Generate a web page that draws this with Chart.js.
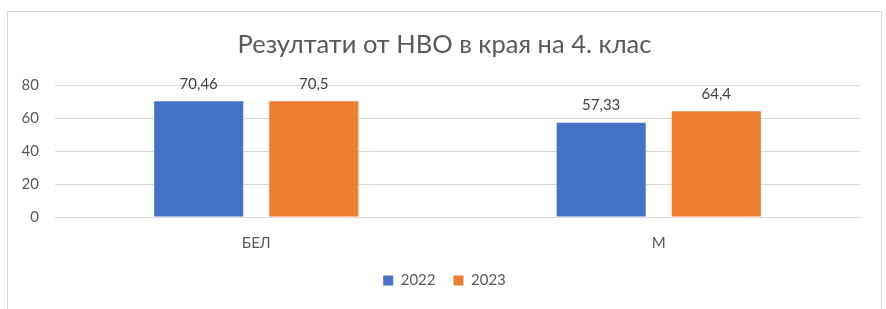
<!DOCTYPE html>
<html>
<head>
<meta charset="utf-8">
<script src="https://cdn.jsdelivr.net/npm/chart.js@4"></script>
<style>
  html, body { margin: 0; padding: 0; background: #ffffff; overflow: hidden; }
  #box {
    position: absolute; left: 7px; top: 11px;
    width: 873px; height: 300px;
    border: 1px solid #d9d9d9; background: #fff;
  }
</style>
</head>
<body>
<div id="box"><canvas id="chart" width="873" height="300"></canvas></div>
<script>
// data
const categories = ["БЕЛ", "М"];
const years = ["2022", "2023"];
const values2022 = [70.46, 57.33];
const values2023 = [70.5, 64.4];
const yTicks = [0, 20, 40, 60, 80];

const FONT = "Lato, 'Open Sans', sans-serif";

// value labels above the bars, with decimal comma
const barLabels = {
  id: "barLabels",
  afterDatasetsDraw(chart) {
    const ctx = chart.ctx;
    ctx.save();
    ctx.font = "15px " + FONT;
    ctx.fillStyle = "#404040";
    ctx.textAlign = "center";
    ctx.textBaseline = "bottom";
    chart.data.datasets.forEach((ds, i) => {
      chart.getDatasetMeta(i).data.forEach((bar, j) => {
        ctx.fillText(String(ds.data[j]).replace(".", ","), bar.x, bar.y - 10);
      });
    });
    ctx.restore();
  }
};

new Chart(document.getElementById("chart").getContext("2d"), {
  type: "bar",
  data: {
    labels: categories,
    datasets: [
      { label: years[0], data: values2022, backgroundColor: "#4472c4",
        categoryPercentage: 0.572, barPercentage: 0.774 },
      { label: years[1], data: values2023, backgroundColor: "#ed7d31",
        categoryPercentage: 0.572, barPercentage: 0.774 }
    ]
  },
  options: {
    responsive: false,
    animation: false,
    layout: { padding: { left: 0, right: 0, top: 0, bottom: 14 } },
    plugins: {
      title: {
        display: true,
        text: "Резултати от НВО в края на 4. клас",
        color: "#595959",
        font: { family: FONT, size: 25.5, weight: "normal" },
        padding: { top: 17, bottom: 26 }
      },
      legend: {
        position: "bottom",
        labels: {
          color: "#595959",
          font: { family: FONT, size: 15 },
          boxWidth: 10, boxHeight: 10,
          padding: 18
        }
      },
      tooltip: { enabled: false }
    },
    scales: {
      x: {
        grid: { display: false },
        border: { color: "#d9d9d9" },
        ticks: { color: "#595959", font: { family: FONT, size: 15 }, padding: 9 },
        afterFit(scale) { scale.height = 38; }
      },
      y: {
        min: 0, max: 80,
        afterBuildTicks(scale) { scale.ticks = yTicks.map(v => ({ value: v })); },
        grid: { color: "#d9d9d9", drawTicks: false },
        border: { display: false },
        ticks: { color: "#595959", font: { family: FONT, size: 15 }, padding: 16 },
        afterFit(scale) { scale.width = 47; }
      },
      // empty right-hand axis, only to keep the plot clear of the right border
      gap: {
        position: "right",
        grid: { display: false },
        border: { display: false },
        ticks: { display: false },
        afterFit(scale) { scale.width = 21; }
      }
    }
  },
  plugins: [barLabels]
});
</script>
</body>
</html>
